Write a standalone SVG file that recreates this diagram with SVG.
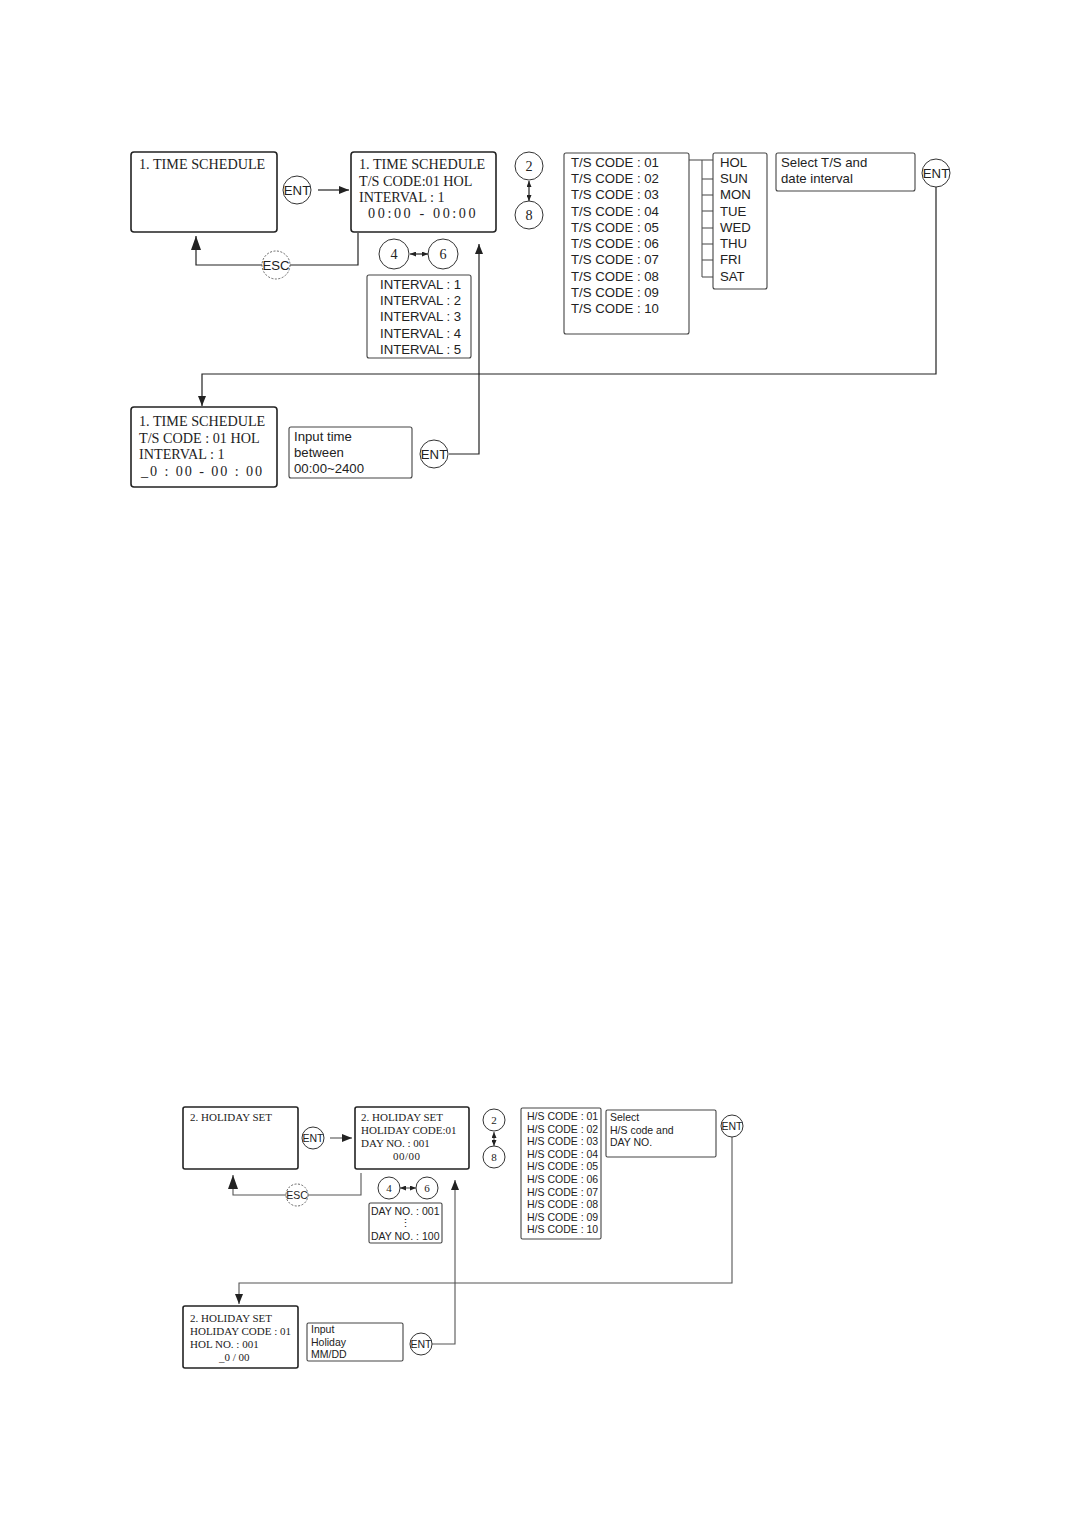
<svg xmlns="http://www.w3.org/2000/svg" width="1081" height="1513" viewBox="0 0 1081 1513">
<style>
.bg{fill:#fff}
.lcd{fill:#fff;stroke:#222;stroke-width:1.6}
.box{fill:#fff;stroke:#444;stroke-width:1.1}
.key{fill:#fff;stroke:#333;stroke-width:1}
.esc{fill:#fff;stroke:#555;stroke-width:0.9;stroke-dasharray:2 1.5}
.ln{fill:none;stroke:#222;stroke-width:1.2}
.lg{fill:none;stroke:#555;stroke-width:1.1}
.sf{font-family:"Liberation Serif","Times New Roman",serif;fill:#222}
.ss{font-family:"Liberation Sans",Arial,sans-serif;fill:#222}
.t15{font-size:14.2px}
.t13{font-size:13.2px}
.t11{font-size:11px}
.t10{font-size:10.5px}
</style>
<defs>
<marker id="ah" markerUnits="userSpaceOnUse" markerWidth="10" markerHeight="8" refX="10" refY="4" orient="auto"><path d="M0,0 L10,4 L0,8 z" fill="#222"/></marker>
<marker id="ahL" markerUnits="userSpaceOnUse" markerWidth="14" markerHeight="10" refX="14" refY="5" orient="auto"><path d="M0,0 L14,5 L0,10 z" fill="#222"/></marker>
<marker id="ahs" markerUnits="userSpaceOnUse" markerWidth="6" markerHeight="5" refX="6" refY="2.5" orient="auto-start-reverse"><path d="M0,0 L6,2.5 L0,5 z" fill="#222"/></marker>
</defs>
<rect class="bg" x="0" y="0" width="1081" height="1513"/>

<g id="connectors">
<line class="ln" x1="318" y1="190" x2="349" y2="190" marker-end="url(#ah)"/>
<polyline class="ln" points="358,233 358,265 196,265 196,236" marker-end="url(#ahL)"/>
<line class="ln" x1="529" y1="181" x2="529" y2="201" marker-start="url(#ahs)" marker-end="url(#ahs)"/>
<line class="ln" x1="410" y1="254" x2="428" y2="254" marker-start="url(#ahs)" marker-end="url(#ahs)"/>
<polyline class="ln" points="936,187 936,374 202,374 202,406" marker-end="url(#ah)"/>
<polyline class="ln" points="449,454 479,454 479,244" marker-end="url(#ah)"/>
<g class="lg">
<line x1="689" y1="160" x2="713" y2="160"/>
<line x1="702" y1="160" x2="702" y2="277"/>
<line x1="702" y1="179" x2="713" y2="179"/>
<line x1="702" y1="195" x2="713" y2="195"/>
<line x1="702" y1="211" x2="713" y2="211"/>
<line x1="702" y1="228" x2="713" y2="228"/>
<line x1="702" y1="244" x2="713" y2="244"/>
<line x1="702" y1="260" x2="713" y2="260"/>
<line x1="702" y1="277" x2="713" y2="277"/>
</g>
<line class="lg" x1="330" y1="1138" x2="352" y2="1138" marker-end="url(#ah)"/>
<polyline class="lg" points="361,1173 361,1195 233,1195 233,1175" marker-end="url(#ahL)"/>
<line class="lg" x1="494" y1="1132" x2="494" y2="1146" marker-start="url(#ahs)" marker-end="url(#ahs)"/>
<line class="lg" x1="400" y1="1188" x2="416" y2="1188" marker-start="url(#ahs)" marker-end="url(#ahs)"/>
<polyline class="lg" points="732,1137 732,1283 239,1283 239,1304" marker-end="url(#ah)"/>
<polyline class="lg" points="432,1344 455,1344 455,1180" marker-end="url(#ah)"/>
</g>

<g id="ts-menu"><rect class="lcd" x="131" y="152" width="146" height="80" rx="3"/>
<text class="sf t15" x="139" y="169">1. TIME SCHEDULE</text></g>
<g id="ent1"><circle class="key" cx="297" cy="190" r="14"/><text class="ss t13" x="297" y="195" text-anchor="middle">ENT</text></g>
<g id="ts-code"><rect class="lcd" x="351" y="152" width="145" height="80" rx="3"/>
<text class="sf t15" x="359" y="169">1. TIME SCHEDULE</text>
<text class="sf t15" x="359" y="186">T/S CODE:01 HOL</text>
<text class="sf t15" x="359" y="202">INTERVAL : 1</text>
<text class="sf t15" x="368" y="218" letter-spacing="2.6">00:00 - 00:00</text></g>
<g id="esc1"><circle class="esc" cx="276" cy="265" r="14"/><text class="ss t13" x="276" y="270" text-anchor="middle">ESC</text></g>
<g id="k2"><circle class="key" cx="529" cy="166" r="14"/><text class="sf t15" x="529" y="171" text-anchor="middle">2</text></g>
<g id="k8"><circle class="key" cx="529" cy="215" r="14"/><text class="sf t15" x="529" y="220" text-anchor="middle">8</text></g>
<g id="k4"><circle class="key" cx="394" cy="254" r="15"/><text class="sf t15" x="394" y="259" text-anchor="middle">4</text></g>
<g id="k6"><circle class="key" cx="443" cy="254" r="15"/><text class="sf t15" x="443" y="259" text-anchor="middle">6</text></g>
<g id="intervals"><rect class="box" x="367" y="275" width="104" height="83" rx="2"/>
<text class="ss t13" x="380" y="289">INTERVAL : 1</text>
<text class="ss t13" x="380" y="305">INTERVAL : 2</text>
<text class="ss t13" x="380" y="321">INTERVAL : 3</text>
<text class="ss t13" x="380" y="338">INTERVAL : 4</text>
<text class="ss t13" x="380" y="354">INTERVAL : 5</text></g>
<g id="ts-codes"><rect class="box" x="564" y="153" width="125" height="181" rx="2"/>
<text class="ss t13" x="571" y="167">T/S CODE : 01</text>
<text class="ss t13" x="571" y="183">T/S CODE : 02</text>
<text class="ss t13" x="571" y="199">T/S CODE : 03</text>
<text class="ss t13" x="571" y="216">T/S CODE : 04</text>
<text class="ss t13" x="571" y="232">T/S CODE : 05</text>
<text class="ss t13" x="571" y="248">T/S CODE : 06</text>
<text class="ss t13" x="571" y="264">T/S CODE : 07</text>
<text class="ss t13" x="571" y="281">T/S CODE : 08</text>
<text class="ss t13" x="571" y="297">T/S CODE : 09</text>
<text class="ss t13" x="571" y="313">T/S CODE : 10</text></g>
<g id="days"><rect class="box" x="713" y="153" width="54" height="136" rx="2"/>
<text class="ss t13" x="720" y="167">HOL</text>
<text class="ss t13" x="720" y="183">SUN</text>
<text class="ss t13" x="720" y="199">MON</text>
<text class="ss t13" x="720" y="216">TUE</text>
<text class="ss t13" x="720" y="232">WED</text>
<text class="ss t13" x="720" y="248">THU</text>
<text class="ss t13" x="720" y="264">FRI</text>
<text class="ss t13" x="720" y="281">SAT</text></g>
<g id="note-select"><rect class="box" x="776" y="153" width="139" height="38" rx="2"/>
<text class="ss t13" x="781" y="167">Select T/S and</text>
<text class="ss t13" x="781" y="183">date interval</text></g>
<g id="ent2"><circle class="key" cx="936" cy="173" r="14"/><text class="ss t13" x="936" y="178" text-anchor="middle">ENT</text></g>
<g id="ts-input"><rect class="lcd" x="131" y="407" width="146" height="80" rx="3"/>
<text class="sf t15" x="139" y="426">1. TIME SCHEDULE</text>
<text class="sf t15" x="139" y="443">T/S  CODE : 01 HOL</text>
<text class="sf t15" x="139" y="459">INTERVAL : 1</text>
<text class="sf t15" x="141" y="476" letter-spacing="1.9">_0 : 00 - 00 : 00</text></g>
<g id="note-input"><rect class="box" x="289" y="427" width="123" height="51" rx="2"/>
<text class="ss t13" x="294" y="441">Input time</text>
<text class="ss t13" x="294" y="457">between</text>
<text class="ss t13" x="294" y="473">00:00~2400</text></g>
<g id="ent3"><circle class="key" cx="434" cy="454" r="14"/><text class="ss t13" x="434" y="459" text-anchor="middle">ENT</text></g>

<g id="hs-menu"><rect class="lcd" x="183" y="1107" width="115" height="62" rx="2"/>
<text class="sf t11" x="190" y="1121">2. HOLIDAY SET</text></g>
<g id="ent4"><circle class="key" cx="313" cy="1138" r="11"/><text class="ss t10" x="313" y="1142" text-anchor="middle">ENT</text></g>
<g id="hs-code"><rect class="lcd" x="355" y="1107" width="114" height="62" rx="2"/>
<text class="sf t11" x="361" y="1121">2. HOLIDAY SET</text>
<text class="sf t11" x="361" y="1134">HOLIDAY CODE:01</text>
<text class="sf t11" x="361" y="1147">DAY NO. : 001</text>
<text class="sf t11" x="393" y="1160" letter-spacing="0.5">00/00</text></g>
<g id="esc2"><circle class="esc" cx="297" cy="1195" r="11"/><text class="ss t10" x="297" y="1199" text-anchor="middle">ESC</text></g>
<g id="k4b"><circle class="key" cx="389" cy="1188" r="11"/><text class="sf t11" x="389" y="1192" text-anchor="middle">4</text></g>
<g id="k6b"><circle class="key" cx="427" cy="1188" r="11"/><text class="sf t11" x="427" y="1192" text-anchor="middle">6</text></g>
<g id="daynos"><rect class="box" x="369" y="1203" width="73" height="40" rx="1.5"/>
<text class="ss t10" x="371" y="1215">DAY NO. : 001</text>
<text class="ss t10" x="405" y="1227" text-anchor="middle">⋮</text>
<text class="ss t10" x="371" y="1240">DAY NO. : 100</text></g>
<g id="k2b"><circle class="key" cx="494" cy="1120" r="11"/><text class="sf t11" x="494" y="1124" text-anchor="middle">2</text></g>
<g id="k8b"><circle class="key" cx="494" cy="1157" r="11"/><text class="sf t11" x="494" y="1161" text-anchor="middle">8</text></g>
<g id="hs-codes"><rect class="box" x="521" y="1108" width="80" height="131" rx="1.5"/>
<text class="ss t10" x="527" y="1120">H/S CODE : 01</text>
<text class="ss t10" x="527" y="1132.6">H/S CODE : 02</text>
<text class="ss t10" x="527" y="1145.2">H/S CODE : 03</text>
<text class="ss t10" x="527" y="1157.8">H/S CODE : 04</text>
<text class="ss t10" x="527" y="1170.4">H/S CODE : 05</text>
<text class="ss t10" x="527" y="1183">H/S CODE : 06</text>
<text class="ss t10" x="527" y="1195.6">H/S CODE : 07</text>
<text class="ss t10" x="527" y="1208.2">H/S CODE : 08</text>
<text class="ss t10" x="527" y="1220.8">H/S CODE : 09</text>
<text class="ss t10" x="527" y="1233.4">H/S CODE : 10</text></g>
<g id="note-select2"><rect class="box" x="606" y="1110" width="110" height="47" rx="1.5"/>
<text class="ss t10" x="610" y="1121">Select</text>
<text class="ss t10" x="610" y="1134">H/S code and</text>
<text class="ss t10" x="610" y="1146">DAY NO.</text></g>
<g id="ent5"><circle class="key" cx="732" cy="1126" r="11"/><text class="ss t10" x="732" y="1130" text-anchor="middle">ENT</text></g>
<g id="hs-input"><rect class="lcd" x="183" y="1306" width="115" height="62" rx="2"/>
<text class="sf t11" x="190" y="1322">2. HOLIDAY SET</text>
<text class="sf t11" x="190" y="1335">HOLIDAY  CODE : 01</text>
<text class="sf t11" x="190" y="1348">HOL NO. : 001</text>
<text class="sf t11" x="219" y="1361">_0 / 00</text></g>
<g id="note-input2"><rect class="box" x="307" y="1323" width="96" height="38" rx="1.5"/>
<text class="ss t10" x="311" y="1333">Input</text>
<text class="ss t10" x="311" y="1346">Holiday</text>
<text class="ss t10" x="311" y="1358">MM/DD</text></g>
<g id="ent6"><circle class="key" cx="421" cy="1344" r="11"/><text class="ss t10" x="421" y="1348" text-anchor="middle">ENT</text></g>
</svg>
